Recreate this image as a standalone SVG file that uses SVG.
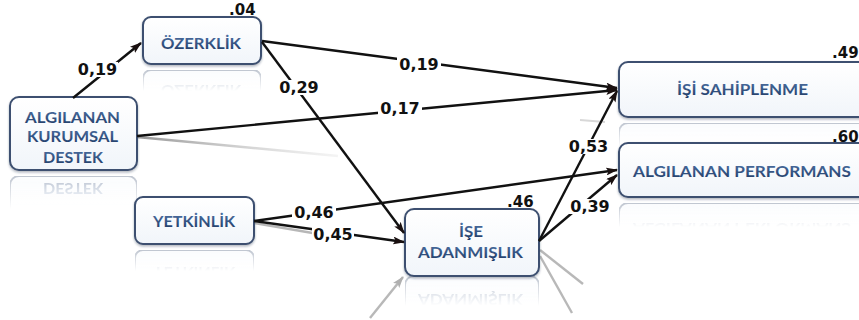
<svg xmlns="http://www.w3.org/2000/svg" width="859" height="320" viewBox="0 0 859 320">
  <style>
    .box { fill: url(#boxFill); stroke: #3d5070; stroke-width: 2; }
    .name { font-family: Lato, "Open Sans", "DejaVu Sans", sans-serif; font-weight: bold; font-size: 15.5px; fill: url(#inkFill); text-anchor: middle; }
    .coef { font-family: "DejaVu Sans", Verdana, sans-serif; font-weight: bold; font-size: 16px; fill: #111; text-anchor: middle; }
    .r2 { font-family: "DejaVu Sans", Verdana, sans-serif; font-weight: bold; font-size: 15px; fill: #111; text-anchor: start; }
    .path { fill: none; stroke: #111; stroke-width: 2.4; marker-end: url(#arrow); }
    .ghost { fill: none; stroke: #b8b8b8; stroke-width: 2.4; }
    .bg { fill: #ffffff; }
    .mirror { opacity: 0.55; }
  </style>
  <defs>
    <linearGradient id="boxFill" x1="0" y1="0" x2="0" y2="1">
      <stop offset="0" stop-color="#ffffff"/>
      <stop offset="1" stop-color="#f1f5fa"/>
    </linearGradient>
    <linearGradient id="inkFill" x1="0" y1="0" x2="0" y2="1">
      <stop offset="0" stop-color="#4f73a6"/>
      <stop offset="1" stop-color="#1f3a66"/>
    </linearGradient>
    <linearGradient id="fadeGrad" x1="0" y1="0" x2="0" y2="1">
      <stop offset="0" stop-color="#fff" stop-opacity="0"/>
      <stop offset="0.55" stop-color="#fff" stop-opacity="0"/>
      <stop offset="1" stop-color="#fff" stop-opacity="0.6"/>
    </linearGradient>
    <mask id="fade" maskContentUnits="objectBoundingBox">
      <rect x="0" y="0" width="1" height="1" fill="url(#fadeGrad)"/>
    </mask>
    <linearGradient id="trailGrad" x1="0" y1="0" x2="1" y2="0">
      <stop offset="0" stop-color="#8a8a8a" stop-opacity="0.9"/>
      <stop offset="1" stop-color="#c8c8c8" stop-opacity="0.2"/>
    </linearGradient>
    <filter id="lift" x="-10%" y="-10%" width="120%" height="130%">
      <feDropShadow dx="0" dy="1.5" stdDeviation="1" flood-color="#1d2c45" flood-opacity="0.35"/>
    </filter>
    <marker id="arrow" viewBox="0 0 12 8" refX="11" refY="4" markerWidth="12" markerHeight="8" markerUnits="userSpaceOnUse" orient="auto">
      <path d="M0,0 L12,4 L0,8 L2.5,4 z" fill="#1a1010"/>
    </marker>
    <marker id="arrowGhost" viewBox="0 0 12 8" refX="11" refY="4" markerWidth="12" markerHeight="8" markerUnits="userSpaceOnUse" orient="auto">
      <path d="M0,0 L12,4 L0,8 L2.5,4 z" fill="#b0b0b0"/>
    </marker>
  </defs>

  <!-- soft mirrored trails under the arrows -->
  <g id="trails">
    <line x1="137" y1="137" x2="338" y2="156" stroke="url(#trailGrad)" stroke-width="2.5"/>
    <line x1="254" y1="223" x2="330" y2="236" stroke="#9a9a9a" stroke-width="2.5" opacity="0.7"/>
    <line x1="370" y1="318" x2="403" y2="277" class="ghost" marker-end="url(#arrowGhost)"/>
    <line x1="540" y1="250" x2="583" y2="284" class="ghost"/>
    <line x1="540" y1="256" x2="572" y2="313" class="ghost"/>
    <line x1="580" y1="120" x2="605" y2="122" stroke="#d8d8d8" stroke-width="2"/>
  </g>

  <!-- nodes -->
  <g id="node-ozerklik">
    <g class="mirror" mask="url(#fade)" transform="translate(0,134) scale(1,-1)">
      <rect class="box" x="143" y="17" width="118" height="47" rx="8"/>
      <text class="name" x="201" y="49" textLength="80" lengthAdjust="spacingAndGlyphs">ÖZERKLİK</text>
    </g>
    <rect class="box" x="143" y="17" width="118" height="47" rx="8" filter="url(#lift)"/>
    <text class="name" x="201" y="49" textLength="80" lengthAdjust="spacingAndGlyphs">ÖZERKLİK</text>
  </g>

  <g id="node-algilanan-kurumsal-destek">
    <g class="mirror" mask="url(#fade)" transform="translate(0,346) scale(1,-1)">
      <rect class="box" x="10" y="97" width="127" height="73" rx="9"/>
      <text class="name" x="73" y="163" textLength="60" lengthAdjust="spacingAndGlyphs">DESTEK</text>
    </g>
    <rect class="box" x="10" y="97" width="127" height="73" rx="9" filter="url(#lift)"/>
    <text class="name" x="72.5" y="123" textLength="95" lengthAdjust="spacingAndGlyphs">ALGILANAN</text>
    <text class="name" x="72.5" y="142" textLength="91" lengthAdjust="spacingAndGlyphs">KURUMSAL</text>
    <text class="name" x="73" y="163" textLength="60" lengthAdjust="spacingAndGlyphs">DESTEK</text>
  </g>

  <g id="node-yetkinlik">
    <g class="mirror" mask="url(#fade)" transform="translate(0,494) scale(1,-1)">
      <rect class="box" x="135" y="197" width="119" height="47" rx="8"/>
      <text class="name" x="194" y="227" textLength="82" lengthAdjust="spacingAndGlyphs">YETKİNLİK</text>
    </g>
    <rect class="box" x="135" y="197" width="119" height="47" rx="8" filter="url(#lift)"/>
    <text class="name" x="194" y="227" textLength="82" lengthAdjust="spacingAndGlyphs">YETKİNLİK</text>
  </g>

  <g id="node-ise-adanmislik">
    <g class="mirror" mask="url(#fade)" transform="translate(0,552) scale(1,-1)">
      <rect class="box" x="405" y="209" width="134" height="67" rx="9"/>
      <text class="name" x="470.5" y="258" textLength="105" lengthAdjust="spacingAndGlyphs">ADANMIŞLIK</text>
    </g>
    <rect class="box" x="405" y="209" width="134" height="67" rx="9" filter="url(#lift)"/>
    <text class="name" x="471" y="237" textLength="24" lengthAdjust="spacingAndGlyphs">İŞE</text>
    <text class="name" x="470.5" y="258" textLength="105" lengthAdjust="spacingAndGlyphs">ADANMIŞLIK</text>
  </g>

  <g id="node-isi-sahiplenme">
    <g class="mirror" mask="url(#fade)" transform="translate(0,240) scale(1,-1)">
      <rect class="box" x="619" y="62" width="250" height="55" rx="9"/>
    </g>
    <rect class="box" x="619" y="62" width="250" height="55" rx="9" filter="url(#lift)"/>
    <text class="name" x="742.5" y="95" textLength="131" lengthAdjust="spacingAndGlyphs">İŞİ SAHİPLENME</text>
  </g>

  <g id="node-algilanan-performans">
    <g class="mirror" mask="url(#fade)" transform="translate(0,400) scale(1,-1)">
      <rect class="box" x="619" y="143" width="250" height="54" rx="9"/>
      <text class="name" x="742" y="177" textLength="218" lengthAdjust="spacingAndGlyphs">ALGILANAN PERFORMANS</text>
    </g>
    <rect class="box" x="619" y="143" width="250" height="54" rx="9" filter="url(#lift)"/>
    <text class="name" x="742" y="177" textLength="218" lengthAdjust="spacingAndGlyphs">ALGILANAN PERFORMANS</text>
  </g>

  <!-- path coefficients -->
  <g id="connectors">
    <line class="path" x1="73" y1="98" x2="141" y2="43"/>
    <line class="path" x1="262" y1="41" x2="617" y2="88"/>
    <line class="path" x1="137" y1="136" x2="617" y2="90"/>
    <line class="path" x1="262" y1="42" x2="404" y2="233" stroke="#3a1616"/>
    <line class="path" x1="254" y1="221" x2="617" y2="170"/>
    <line class="path" x1="254" y1="221" x2="404" y2="242"/>
    <line class="path" x1="539" y1="241" x2="617" y2="91"/>
    <line class="path" x1="539" y1="241" x2="617" y2="175"/>

    <rect class="bg" x="77" y="62" width="41" height="15"/>
    <text class="coef" x="97.5" y="75">0,19</text>
    <rect class="bg" x="397" y="57" width="44" height="15"/>
    <text class="coef" x="419" y="70">0,19</text>
    <rect class="bg" x="378" y="101" width="44" height="15"/>
    <text class="coef" x="400" y="114">0,17</text>
    <rect class="bg" x="278" y="80" width="42" height="15"/>
    <text class="coef" x="299" y="93">0,29</text>
    <rect class="bg" x="292" y="205" width="44" height="15"/>
    <text class="coef" x="314" y="218">0,46</text>
    <rect class="bg" x="312" y="227" width="42" height="15"/>
    <text class="coef" x="333" y="240">0,45</text>
    <rect class="bg" x="567" y="139" width="43" height="15"/>
    <text class="coef" x="588.5" y="152">0,53</text>
    <rect class="bg" x="569" y="199" width="42" height="15"/>
    <text class="coef" x="590" y="212">0,39</text>
  </g>

  <!-- explained variance -->
  <g id="r-squared">
    <text class="r2" x="229" y="15">.04</text>
    <text class="r2" x="507" y="207">.46</text>
    <text class="r2" x="832" y="58">.49</text>
    <text class="r2" x="832" y="142">.60</text>
  </g>
</svg>
